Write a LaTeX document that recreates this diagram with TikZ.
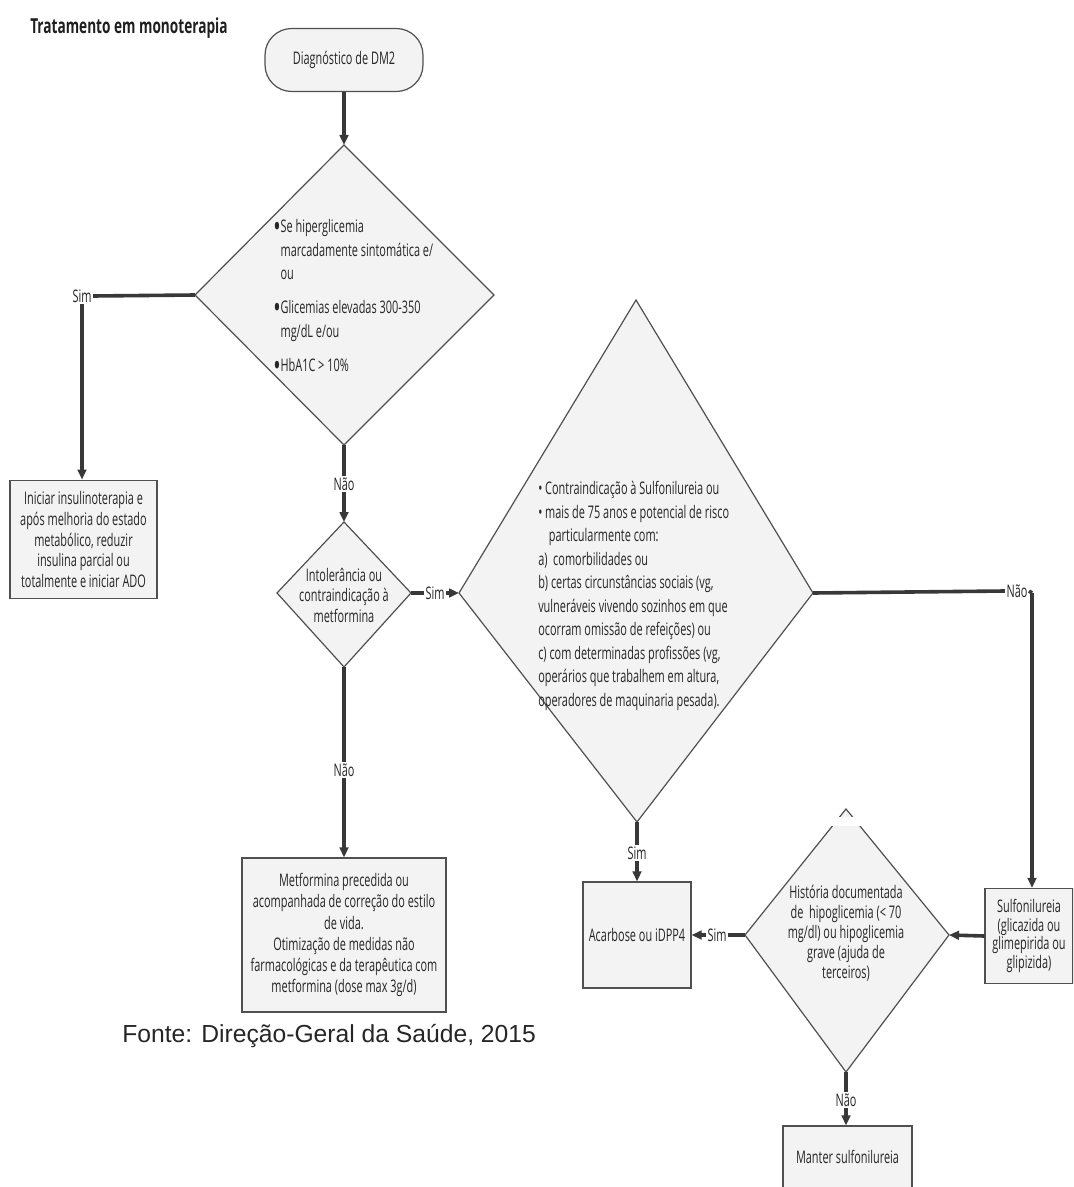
\documentclass[tikz,border=0pt]{standalone}
\usepackage{fontspec}
\usetikzlibrary{arrows.meta}
\newfontfamily\cf{Open Sans}[FakeStretch=0.63]
\newfontfamily\tfont{Open Sans}[FakeStretch=0.66]
\newfontfamily\ffont{Liberation Sans}
\definecolor{linec}{HTML}{383838}
\definecolor{bordc}{HTML}{505050}
\definecolor{fillc}{HTML}{F3F3F3}
\definecolor{txtc}{HTML}{262626}
\tikzset{
  conn/.style={draw=linec, line width=2.7pt},
  arr/.style={conn, -{Triangle[length=7.5pt,width=6.5pt]}},
  shapebox/.style={draw=bordc, line width=0.9pt, fill=fillc},
  lbl/.style={font=\cf\fontsize{13}{14}\selectfont, text=txtc, inner sep=1pt},
  boxnode/.style={shapebox, font=\cf\fontsize{13}{15.5}\selectfont, text=txtc, align=center, inner sep=2pt},
  dtext/.style={font=\cf\fontsize{13}{17.6}\selectfont, text=txtc, inner sep=0pt}
}
\newcommand{\bul}{\makebox[5.5pt][l]{\raisebox{-3.6pt}{\scalebox{1.8}{•}}}}
\begin{document}
\begin{tikzpicture}[x=0.75pt,y=-0.75pt]
\useasboundingbox (0,0) rectangle (1073,1187);
\clip (0,0) rectangle (1073,1187);
\fill[white] (0,0) rectangle (1073,1187);

% title
\node[anchor=west, font=\tfont\bfseries\fontsize{15.5}{18}\selectfont, text=black!88, inner sep=0pt] (title) at (30,28) {Tratamento em monoterapia};

% start
\node[boxnode, rounded corners=20pt, minimum width=118.5pt, minimum height=47.25pt] (start) at (344,60) {Diagnóstico de DM2};

% diamond 1
\coordinate (d1t) at (344,145); \coordinate (d1r) at (494,295);
\coordinate (d1b) at (344,445); \coordinate (d1l) at (195,295);
\draw[shapebox] (d1t) -- (d1r) -- (d1b) -- (d1l) -- cycle;
\node[dtext, anchor=west, align=left] (d1txt) at (273,298)
{\bul Se hiperglicemia\\
 \hspace*{5.5pt}marcadamente sintomática e/\\
 \hspace*{5.5pt}ou\\[8pt]
 \bul Glicemias elevadas 300-350\\
 \hspace*{5.5pt}mg/dL e/ou\\[8pt]
 \bul HbA1C > 10\%};

% diamond 2
\coordinate (d2t) at (344,522); \coordinate (d2r) at (411,593);
\coordinate (d2b) at (344,667); \coordinate (d2l) at (277,593);
\draw[shapebox] (d2t) -- (d2r) -- (d2b) -- (d2l) -- cycle;
\node[dtext, align=center, font=\cf\fontsize{13}{15.4}\selectfont] (d2txt) at (344,595)
{Intolerância ou\\contraindicação à\\metformina};

% diamond 3
\coordinate (d3t) at (636,300); \coordinate (d3r) at (813,593);
\coordinate (d3b) at (637,822); \coordinate (d3l) at (459,593);
\draw[shapebox] (d3t) -- (d3r) -- (d3b) -- (d3l) -- cycle;
\node[dtext, anchor=west, align=left] (d3txt) at (538,596)
{•\ Contraindicação à Sulfonilureia ou\\
 •\ mais de 75 anos e potencial de risco\\
 \hspace*{8pt}particularmente com:\\
 a)\ \ comorbilidades ou\\
 b) certas circunstâncias sociais (vg,\\
 vulneráveis vivendo sozinhos em que\\
 ocorram omissão de refeições) ou\\
 c) com determinadas profissões (vg,\\
 operários que trabalhem em altura,\\
 operadores de maquinaria pesada).};

% diamond 4
\coordinate (d4t) at (846,809); \coordinate (d4r) at (949,935);
\coordinate (d4b) at (846,1072); \coordinate (d4l) at (745,935);
\draw[shapebox] (d4t) -- (d4r) -- (d4b) -- (d4l) -- cycle;
\fill[white] (826,817) rectangle (866,826);
\node[dtext, align=center, font=\cf\fontsize{13}{15}\selectfont] (d4txt) at (846,933)
{História documentada\\de\ \ hipoglicemia (< 70\\mg/dl) ou hipoglicemia\\grave (ajuda de\\terceiros)};

% boxes
\node[boxnode, minimum width=110.25pt, minimum height=89pt] (box1) at (83.5,539.5)
{Iniciar insulinoterapia e\\após melhoria do estado\\metabólico, reduzir\\insulina parcial ou\\totalmente e iniciar ADO};
\node[boxnode, minimum width=153pt, minimum height=115.5pt, font=\cf\fontsize{13}{15.8}\selectfont] (metf) at (344,935)
{Metformina precedida ou\\acompanhada de correção do estilo\\de vida.\\Otimização de medidas não\\farmacológicas e da terapêutica com\\metformina (dose max 3g/d)};
\node[boxnode, minimum width=81pt, minimum height=79.5pt] (acarb) at (637,935) {Acarbose ou iDPP4};
\node[boxnode, minimum width=66pt, minimum height=71.25pt, font=\cf\fontsize{13}{14}\selectfont] (sulfo) at (1029,936)
{Sulfonilureia\\(glicazida ou\\glimepirida ou\\glipizida)};
\node[boxnode, minimum width=96.75pt, minimum height=78pt] (manter) at (847.5,1178) {};
\node[lbl] (mantertxt) at (847.5,1157) {Manter sulfonilureia};

% labels
\node[lbl] (sim1) at (82,296) {Sim};
\node[lbl] (nao1) at (344,484) {Não};
\node[lbl] (sim2) at (435,593) {Sim};
\node[lbl] (nao2) at (344,770) {Não};
\node[lbl] (nao3) at (1017,591) {Não};
\coordinate (c3) at (1032,593);
\node[lbl] (sim3) at (637,853) {Sim};
\node[lbl] (sim4) at (717,935) {Sim};
\node[lbl] (nao4) at (846,1100) {Não};

% connectors
\draw[arr] (start.south) -- (d1t);
\draw[conn] (d1l) -- (sim1.east);
\draw[arr] (sim1.south) -- (sim1.south |- box1.north);
\draw[conn] (d1b) -- (nao1.north);
\draw[arr] (nao1.south) -- (d2t);
\draw[conn] (d2r) -- (sim2.west);
\draw[arr] (sim2.east) -- (d3l);
\draw[conn] (d2b) -- (nao2.north);
\draw[arr] (nao2.south) -- (metf.north);
\draw[conn] (d3r) -- (nao3.west);
\draw[conn] (nao3.east) -- (c3);
\draw[arr] (c3) -- (c3 |- sulfo.north);
\draw[conn] (d3b) -- (sim3.north);
\draw[arr] (sim3.south) -- (acarb.north);
\draw[arr] (sulfo.west) -- (d4r);
\draw[conn] (d4l) -- (sim4.east);
\draw[arr] (sim4.west) -- (acarb.east);
\draw[conn] (d4b) -- (nao4.north);
\draw[arr] (nao4.south) -- (nao4.south |- manter.north);

% source
\node[anchor=west, font=\ffont\fontsize{18.5}{22}\selectfont, text=black!85, inner sep=0pt] (fonte) at (122,1036) {Fonte: Direção-Geral da Saúde, 2015};
\end{tikzpicture}
\end{document}
